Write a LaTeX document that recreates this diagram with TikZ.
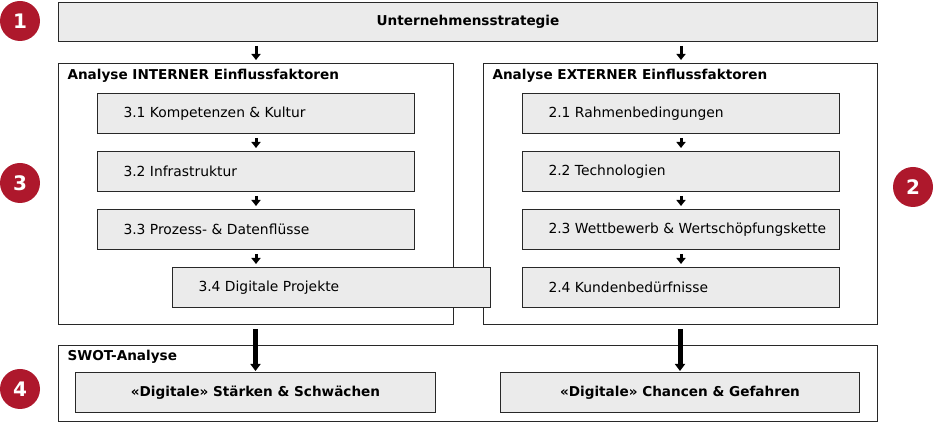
\documentclass[tikz,border=0pt]{standalone}
\usepackage{fontspec}
\setmainfont{DejaVu Sans}
\usetikzlibrary{arrows.meta}

\definecolor{boxgray}{RGB}{235,235,235}
\definecolor{linegray}{RGB}{40,40,40}
\definecolor{numred}{RGB}{174,24,44}

\tikzset{every picture/.style={line width=0.75pt}}
\tikzset{
  frame/.style={draw=linegray, fill=white, inner sep=0pt, anchor=north west},
  graybox/.style={draw=linegray, fill=boxgray, inner sep=0pt, anchor=north west, minimum height=30pt},
  boxtxt/.style={anchor=west, inner sep=0.75pt, font=\fontsize{10.4}{12}\selectfont},
  headtxt/.style={anchor=west, inner sep=0.75pt, font=\fontsize{10.2}{12}\selectfont\bfseries},
  numcircle/.style={circle, fill=numred, text=white, minimum size=30pt, inner sep=0pt, font=\fontsize{15}{16}\selectfont\bfseries},
  smallarr/.style={-{Triangle[width=6.75pt,length=4.5pt]}, line width=2.25pt, shorten <=3pt, shorten >=2.25pt},
  bigarr/.style={-{Triangle[width=7.5pt,length=5.25pt]}, line width=3.75pt, shorten <=3pt, shorten >=0.75pt}
}

\begin{document}
\begin{tikzpicture}[x=0.75pt,y=0.75pt,yscale=-1,xscale=1]
\useasboundingbox (0,0) rectangle (936,423);

%Top box
\node[graybox, minimum width=614.25pt, minimum height=29.25pt] (strat) at (58,2) {};
\node[headtxt, anchor=center] at (strat.center) {Unternehmensstrategie};

%Frames
\node[frame, minimum width=296.25pt, minimum height=195.75pt] (intern) at (58,63) {};
\node[frame, minimum width=295.5pt, minimum height=195.75pt] (extern) at (483,63) {};
\node[headtxt] at (66,76) {Analyse INTERNER Einflussfaktoren};
\node[headtxt] at (491,76) {Analyse EXTERNER Einflussfaktoren};

%Internal boxes
\node[graybox, minimum width=237.75pt] (k31) at (97,93) {};
\node[boxtxt] at ([xshift=18.75pt]k31.west) {3.1 Kompetenzen \& Kultur};
\node[graybox, minimum width=237.75pt] (k32) at (97,151) {};
\node[boxtxt] at ([xshift=18.75pt]k32.west) {3.2 Infrastruktur};
\node[graybox, minimum width=237.75pt] (k33) at (97,209) {};
\node[boxtxt] at ([xshift=18.75pt]k33.west) {3.3 Prozess- \& Datenflüsse};
\node[graybox, minimum width=238.5pt] (k34) at (172,267) {};
\node[boxtxt] at ([xshift=18.75pt]k34.west) {3.4 Digitale Projekte};

%External boxes
\node[graybox, minimum width=237.75pt] (k21) at (522,93) {};
\node[boxtxt] at ([xshift=18.75pt]k21.west) {2.1 Rahmenbedingungen};
\node[graybox, minimum width=237.75pt] (k22) at (522,151) {};
\node[boxtxt] at ([xshift=18.75pt]k22.west) {2.2 Technologien};
\node[graybox, minimum width=237.75pt] (k23) at (522,209) {};
\node[boxtxt] at ([xshift=18.75pt]k23.west) {2.3 Wettbewerb \& Wertschöpfungskette};
\node[graybox, minimum width=237.75pt] (k24) at (522,267) {};
\node[boxtxt] at ([xshift=18.75pt]k24.west) {2.4 Kundenbedürfnisse};

%SWOT
\node[frame, minimum width=614.25pt, minimum height=57pt] (swot) at (58,345) {};
\node[headtxt] at (66,357) {SWOT-Analyse};
\node[graybox, minimum width=270pt] (sw) at (75,372) {};
\node[headtxt, anchor=center] at (sw.center) {«Digitale» Stärken \& Schwächen};
\node[graybox, minimum width=269.25pt] (ot) at (500,372) {};
\node[headtxt, anchor=center] at (ot.center) {«Digitale» Chancen \& Gefahren};

%Numbers
\node[numcircle] (n1) at (20,21) {1};
\node[numcircle] (n3) at (20,183) {3};
\node[numcircle] (n2) at (913,187) {2};
\node[numcircle] (n4) at (20,389) {4};

%Arrows
\draw[smallarr] (strat.south -| k31.north) -- (intern.north -| k31.north);
\draw[smallarr] (strat.south -| k21.north) -- (extern.north -| k21.north);
\draw[smallarr] (k31) -- (k32);
\draw[smallarr] (k32) -- (k33);
\draw[smallarr] (k33.south) -- (k34.north -| k33.south);
\draw[smallarr] (k21) -- (k22);
\draw[smallarr] (k22) -- (k23);
\draw[smallarr] (k23) -- (k24);
\draw[bigarr] (intern.south -| sw.north) -- (sw.north);
\draw[bigarr] (extern.south -| ot.north) -- (ot.north);

\end{tikzpicture}
\end{document}
